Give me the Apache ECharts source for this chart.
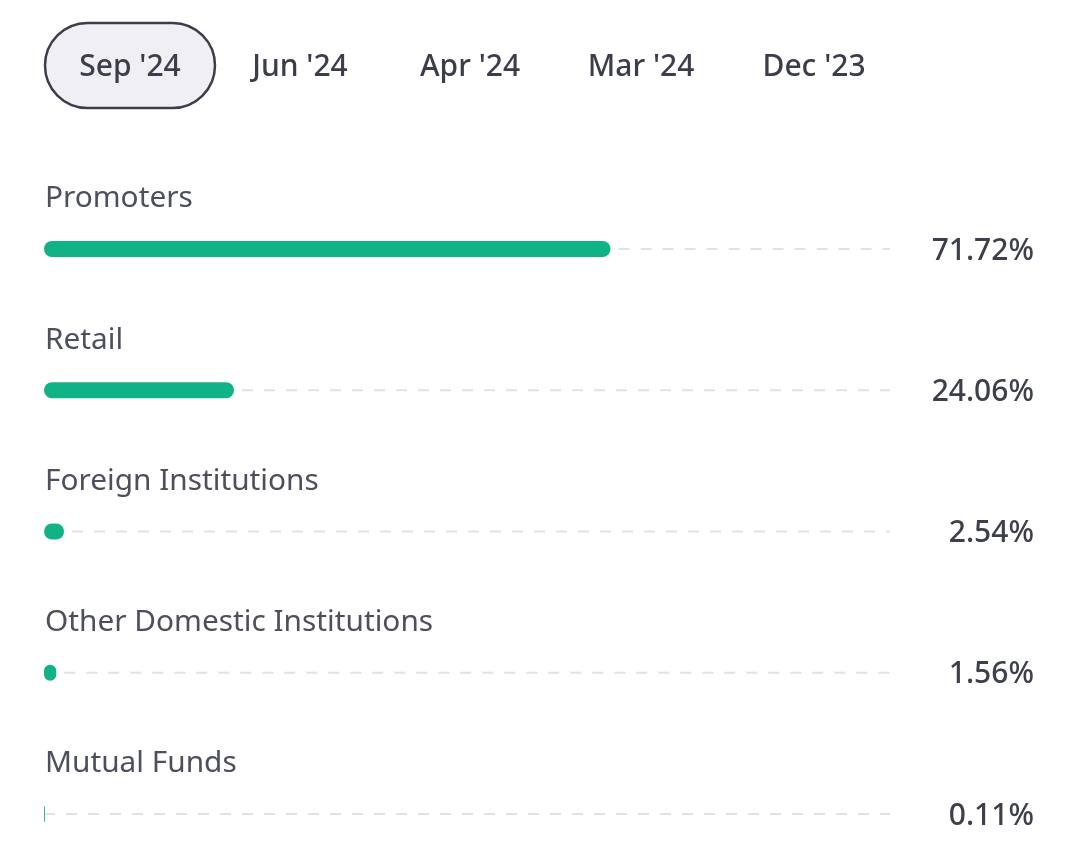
<!DOCTYPE html>
<html><head><meta charset="utf-8">
<script src="https://cdn.jsdelivr.net/npm/echarts@6/dist/echarts.min.js"></script>
<style>html,body{margin:0;background:#fff}#c{width:1080px;height:866px}</style></head>
<body><div id="c"></div>
<script>
const tabs = ["Sep '24", "Jun '24", "Apr '24", "Mar '24", "Dec '23"];
const activeTab = 0;
const categories = ["Promoters", "Retail", "Foreign Institutions", "Other Domestic Institutions", "Mutual Funds"];
const values = [71.72, 24.06, 2.54, 1.56, 0.11];
const TRACK_MAX = 107.1;

const tabCenters = [130, 300, 470, 641, 814];
const graphic = [];
graphic.push({type:'rect', shape:{x:45, y:23, width:170, height:85, r:42.5},
  style:{fill:'#f0f0f4', stroke:'#3b3e4a', lineWidth:2.5}, z:1});
tabs.forEach((t, i) => {
  graphic.push({type:'text', x:tabCenters[i], y:67, z:2,
    style:{text:t, align:'center', verticalAlign:'middle', font:'500 30px "Noto Sans"', fill:'#3b3e4a'}});
});

const chart = echarts.init(document.getElementById('c'));
chart.setOption({
  animation:false,
  graphic: graphic,
  grid:{left:44, top:249, width:846, height:565},
  xAxis:{type:'value', min:0, max:TRACK_MAX, show:false},
  yAxis:{type:'category', data:categories, inverse:true, boundaryGap:false, show:false},
  series:[
    {type:'custom', z:1,
     encode:{x:1, y:0},
     data: values.map((v,i)=>[i,v]),
     clip:false,
     renderItem(params, api){
       const i = api.value(0), v = api.value(1);
       const pv = api.coord([v, i]);
       const p0 = api.coord([0, i]);
       const pe = api.coord([TRACK_MAX, i]);
       const start = v > 0.5 ? pv[0] + 8 : p0[0];
       return {type:'group', children:[
         {type:'line', shape:{x1:start, y1:pv[1], x2:pe[0], y2:pv[1]},
          style:{stroke:'#e2e2e5', lineWidth:2, lineDash:[11,11]}},
         {type:'text', style:{text:categories[i], x:p0[0]+1, y:pv[1]-50, verticalAlign:'middle',
          font:'400 29.8px "Noto Sans"', fill:'#4d505c'}},
         {type:'text', style:{text:values[i].toFixed(2)+'%', x:1034, y:pv[1]+2, align:'right', verticalAlign:'middle',
          font:'500 30px "Noto Sans"', fill:'#3d404b'}}
       ]};
     }},
    {type:'bar', z:2, data:values, barWidth:16,
     itemStyle:{color:'#10b286', borderRadius:8}}
  ]
});
</script></body></html>
